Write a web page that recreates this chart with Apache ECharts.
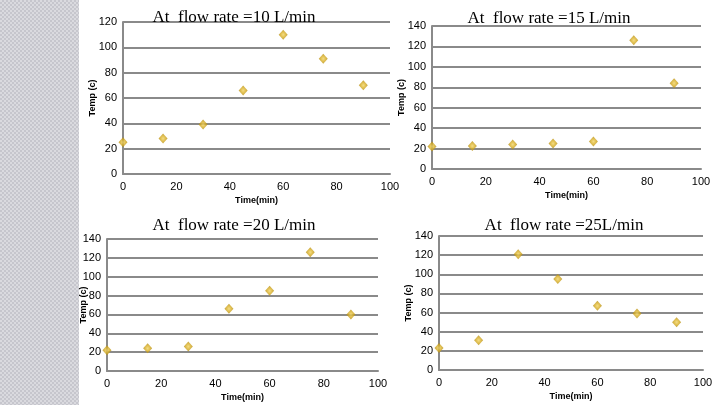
<!DOCTYPE html>
<html>
<head>
<meta charset="utf-8">
<script src="https://cdn.jsdelivr.net/npm/echarts@6/dist/echarts.min.js"></script>
<style>
  html, body { margin: 0; padding: 0; background: #fff; }
  #chart { width: 720px; height: 405px; }
</style>
</head>
<body>
<div id="chart"></div>
<script>
  // time in minutes, same for all four runs
  var timeMin = [0, 15, 30, 45, 60, 75, 90];

  // temperature readings per flow rate
  var temp10 = [25, 28, 39, 66, 110, 91, 70];
  var temp15 = [22, 22.5, 24, 25, 27, 126, 84];
  var temp20 = [22, 24, 26, 66, 85, 126, 60];
  var temp25 = [23, 31, 121, 95, 67, 59, 50];

  var titles = ['At  flow rate =10 L/min', 'At  flow rate =15 L/min', 'At  flow rate =20 L/min', 'At  flow rate =25L/min'];
  var yMax = [120, 140, 140, 140];

  var pairs = function (ys) {
    return timeMin.map(function (t, i) { return [t, ys[i]]; });
  };
  var allTemps = [temp10, temp15, temp20, temp25];

  var grids = [
    { left: 123, top: 22, width: 267, height: 152 },
    { left: 432, top: 26, width: 269, height: 143 },
    { left: 107, top: 239, width: 271, height: 132 },
    { left: 439, top: 236, width: 264, height: 134 }
  ];
  var titlePos = [[229, 4], [544, 5], [229, 212], [559, 212]];
  var yNameGap = [26, 26, 19, 26];

  var gridColor = '#8a8a8a';
  var labelFont = { color: '#000', fontFamily: 'Liberation Sans', fontSize: 11 };

  // checkered strip on the left
  var pat = document.createElement('canvas');
  pat.width = 4; pat.height = 4;
  var ctx = pat.getContext('2d');
  ctx.fillStyle = '#c6c6cd'; ctx.fillRect(0, 0, 4, 4);
  ctx.fillStyle = '#dadadf'; ctx.fillRect(0, 0, 2, 2); ctx.fillRect(2, 2, 2, 2);

  var chart = echarts.init(document.getElementById('chart'));
  chart.setOption({
    backgroundColor: '#fff',
    animation: false,
    graphic: [{
      type: 'rect', left: 0, top: 0, z: -1,
      shape: { width: 79, height: 405 },
      style: { fill: { image: pat, repeat: 'repeat' } }
    }],
    title: titles.map(function (t, i) {
      return {
        text: t, left: titlePos[i][0], top: titlePos[i][1], textAlign: 'center',
        textStyle: { fontFamily: 'Liberation Serif', fontSize: 17, fontWeight: 'normal', color: '#000' }
      };
    }),
    grid: grids,
    xAxis: grids.map(function (g, i) {
      return {
        type: 'value', gridIndex: i, min: 0, max: 100, interval: 20,
        name: 'Time(min)', nameLocation: 'middle', nameGap: 22, nameMoveOverlap: false,
        nameTextStyle: { fontFamily: 'Liberation Sans', fontSize: 9, fontWeight: 'bold', color: '#000' },
        axisLine: { show: true, onZero: false, lineStyle: { color: gridColor, width: 2 } },
        axisTick: { show: false },
        axisLabel: Object.assign({ margin: 7 }, labelFont),
        splitLine: { show: false }
      };
    }),
    yAxis: grids.map(function (g, i) {
      return {
        type: 'value', gridIndex: i, min: 0, max: yMax[i], interval: 20,
        name: 'Temp (c)', nameLocation: 'middle', nameGap: yNameGap[i], nameRotate: 90,
        nameMoveOverlap: false,
        nameTextStyle: { fontFamily: 'Liberation Sans', fontSize: 9, fontWeight: 'bold', color: '#000' },
        axisLine: { show: true, lineStyle: { color: gridColor, width: 2 } },
        axisTick: { show: false },
        axisLabel: Object.assign({ margin: 6 }, labelFont),
        splitLine: { show: true, lineStyle: { color: gridColor, width: 2 } }
      };
    }),
    series: allTemps.map(function (ys, i) {
      return {
        type: 'scatter', xAxisIndex: i, yAxisIndex: i,
        symbol: 'diamond', symbolSize: [9, 10],
        itemStyle: {
          color: new echarts.graphic.RadialGradient(0.5, 0.5, 0.5, [
            { offset: 0, color: '#f0d466' },
            { offset: 0.45, color: '#ddb42c' },
            { offset: 1, color: '#b58c0e' }
          ])
        },
        data: pairs(ys)
      };
    })
  });
</script>
</body>
</html>
